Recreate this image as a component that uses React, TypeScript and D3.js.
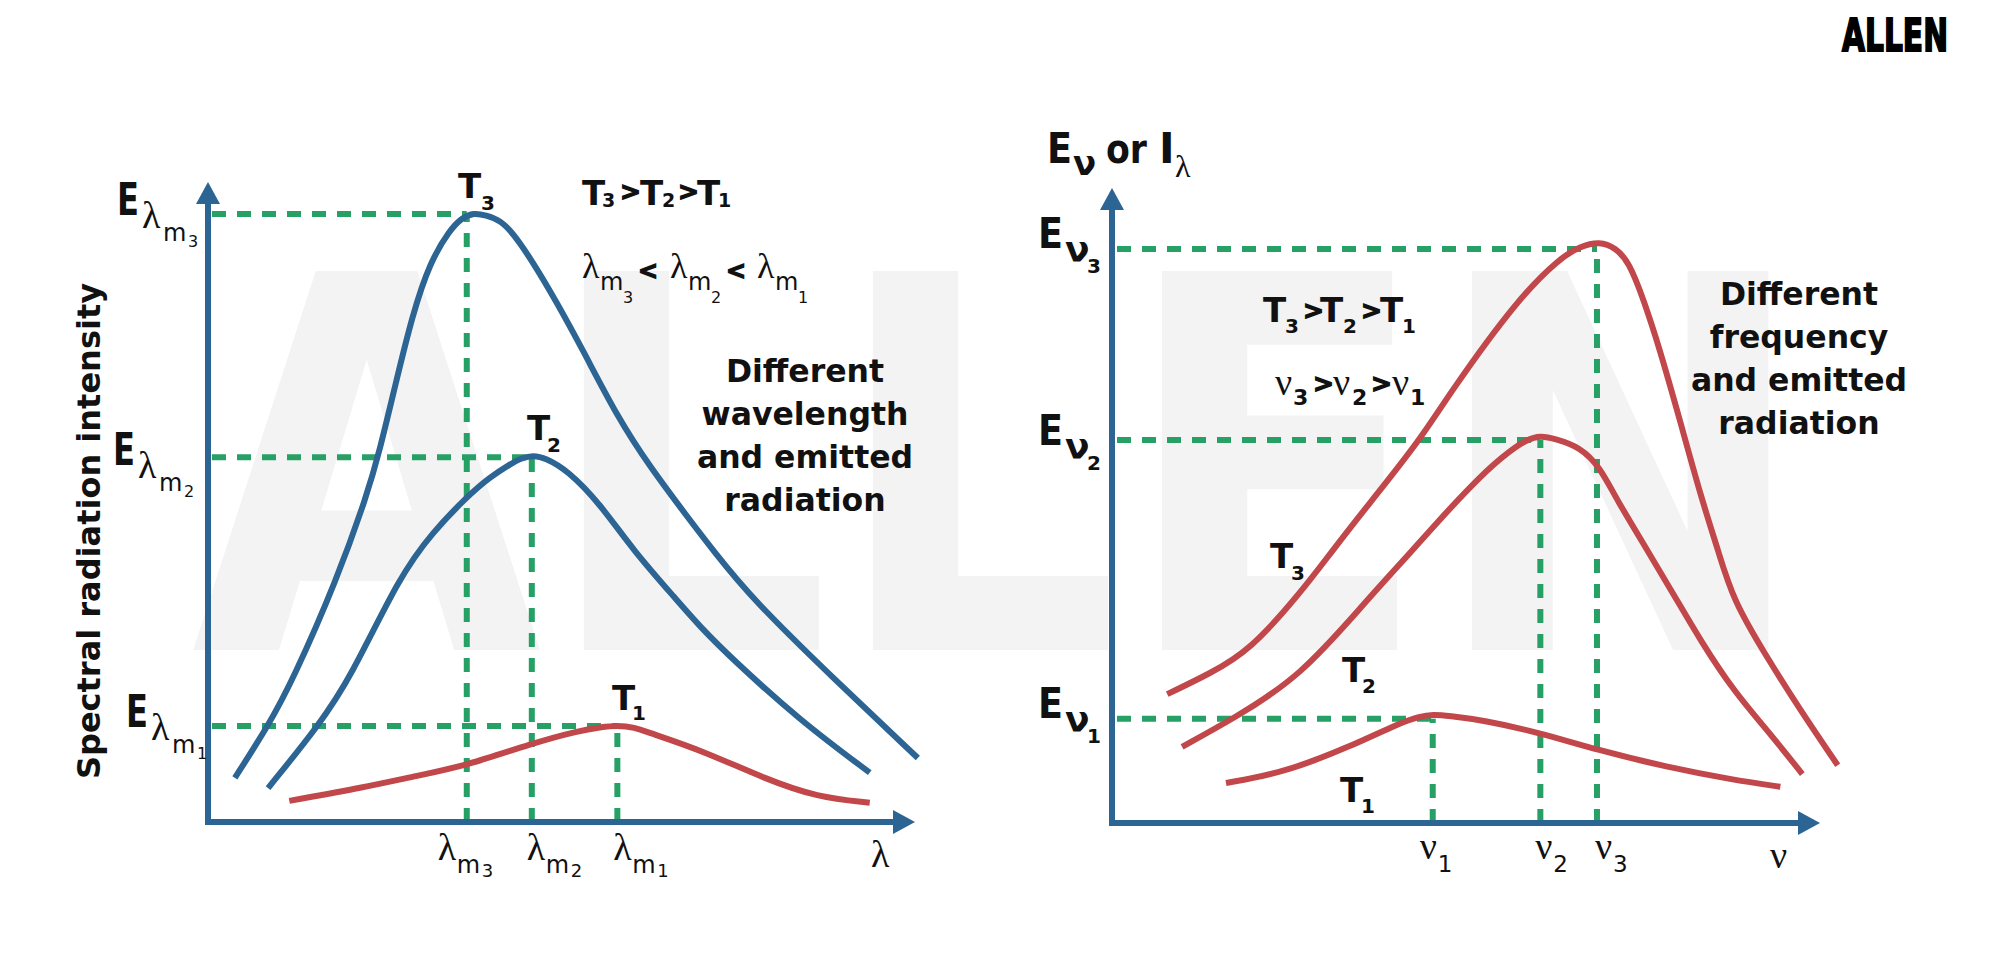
import React from "react";
import * as d3 from "d3";

const W = 1999;
const H = 980;

// ---------- Left chart: intensity vs wavelength (arbitrary units 0..100) ----------
const wlT3: [number, number][] = [[3.8,6.9],[8.5,15.0],[12.0,22.2],[18.2,37.8],[22.5,51.1],[24.3,58.1],[26.5,68.3],[28.9,79.2],[31.4,87.5],[34.2,92.5],[35.9,94.4],[37.6,95.2],[39.3,94.8],[41.3,94.1],[43.7,91.4],[48.4,83.1],[53.0,73.8],[57.9,63.3],[62.5,55.5],[67.8,47.7],[71.4,42.5],[77.1,34.7],[88.7,22.2],[100.4,10.0]];
const wlT2: [number, number][] = [[8.5,5.3],[15.6,15.0],[20.1,22.4],[27.2,38.6],[31.8,45.3],[36.6,50.8],[39.9,53.9],[42.7,55.9],[44.4,56.9],[46.0,57.3],[47.7,56.9],[50.8,55.0],[55.4,49.8],[60.1,42.5],[66.3,34.7],[69.6,30.5],[74.3,25.3],[83.7,15.9],[93.6,7.7]];
const wlT1: [number, number][] = [[11.5,3.3],[22.5,5.5],[28.6,7.0],[36.6,8.8],[45.8,12.3],[52.6,14.3],[55.5,14.8],[57.9,15.1],[60.3,14.8],[62.5,13.9],[69.6,11.3],[79.1,6.6],[86.1,3.9],[93.6,3.0]];
const wlPeakX = [36.6, 45.8, 57.9]; // λm3, λm2, λm1
const wlPeakY = [95.0, 57.0, 15.0]; // Eλm3, Eλm2, Eλm1
const wlPeakSubs = ["3", "2", "1"];
const wlTickOffset = [-29, -5, -4];

// ---------- Right chart: intensity vs frequency ----------
const nuT3: [number, number][] = [[7.8,20.3],[13.8,23.5],[19.5,27.2],[26.6,36.2],[31.2,43.0],[36.4,50.4],[43.5,60.3],[47.7,67.7],[57.2,82.4],[63.3,89.0],[66.1,90.8],[68.9,91.6],[71.1,90.6],[73.0,88.4],[75.1,82.4],[77.4,74.5],[80.1,63.9],[83.3,50.9],[85.6,43.0],[87.7,35.1],[92.5,26.1],[97.2,17.8],[102.5,9.1]];
const nuT2: [number, number][] = [[9.9,12.0],[17.1,16.4],[26.6,23.0],[36.0,35.1],[42.5,43.0],[45.3,46.6],[52.4,55.1],[56.2,58.6],[58.6,60.4],[60.5,61.0],[62.6,60.5],[66.1,59.2],[68.9,56.1],[71.3,50.9],[75.6,43.0],[79.8,35.1],[83.1,28.8],[87.7,20.9],[93.4,13.5],[97.5,7.7]];
const nuT1: [number, number][] = [[16.1,6.3],[24.2,7.9],[33.6,12.0],[40.7,15.8],[43.5,16.8],[45.3,17.1],[47.5,16.9],[52.4,16.2],[60.5,14.2],[68.5,11.5],[78.4,8.8],[87.7,6.8],[94.4,5.7]];
const nuPeakX = [45.3, 60.5, 68.5]; // ν1, ν2, ν3
const nuPeakY = [16.4, 60.3, 90.4]; // Eν1, Eν2, Eν3
const nuPeakSubs = ["1", "2", "3"];
const nuTickOffset = [-13, -5, -2];

const BLUE = "#2c6494";
const RED = "#c1474a";
const GREEN = "#26a065";
const INK = "#111111";
const SANS = "'DejaVu Sans', sans-serif";
const SERIF = "'Liberation Serif', 'DejaVu Serif', serif";

const xL = d3.scaleLinear().domain([0, 100]).range([208, 915]);
const yL = d3.scaleLinear().domain([0, 100]).range([822, 182]);
const xR = d3.scaleLinear().domain([0, 100]).range([1112, 1820]);
const yR = d3.scaleLinear().domain([0, 100]).range([823, 188]);

type Part = { t: string; dx: number; dy: number; size: number; serif?: boolean; bold?: boolean; tl?: number; heavy?: boolean };

function Rich({ x, y, parts }: { x: number; y: number; parts: Part[] }) {
  return (
    <g transform={`translate(${x},${y})`} fill={INK}>
      {parts.map((p, i) => (
        <text
          key={i}
          x={p.dx}
          y={p.dy}
          fontSize={p.size}
          fontFamily={p.serif ? SERIF : SANS}
          fontWeight={p.bold ? 700 : 400}
          textLength={p.tl}
          lengthAdjust={p.tl ? "spacingAndGlyphs" : undefined}
          stroke={p.heavy ? INK : undefined}
          strokeWidth={p.heavy ? 1.4 : undefined}
        >
          {p.t}
        </text>
      ))}
    </g>
  );
}

const tLabel = (sub: string, sdx: number, sdy: number): Part[] => [
  { t: "T", dx: 0, dy: 0, size: 34, bold: true },
  { t: sub, dx: sdx, dy: sdy, size: 20, bold: true },
];

const eLambda = (sub: string): Part[] => [
  { t: "E", dx: 0, dy: 0, size: 44, bold: true, tl: 22 },
  { t: "λ", dx: 25, dy: 13, size: 38, serif: true },
  { t: "m", dx: 46, dy: 26, size: 24 },
  { t: sub, dx: 71, dy: 32, size: 16 },
];

const eNu = (sub: string): Part[] => [
  { t: "E", dx: 0, dy: 0, size: 43, bold: true, tl: 25 },
  { t: "ν", dx: 27, dy: 14, size: 36, bold: true },
  { t: sub, dx: 49, dy: 25, size: 20, bold: true },
];

const chev = (dx: number, dy: number): Part => ({ t: ">", dx, dy, size: 25, bold: true, heavy: true });

function Arrow({ tip, dir }: { tip: [number, number]; dir: "up" | "right" }) {
  const L = 22, hw = 12;
  const [x, y] = tip;
  const pts = dir === "up"
    ? [[x, y], [x - hw, y + L], [x + hw, y + L]]
    : [[x, y], [x - L, y - hw], [x - L, y + hw]];
  return <polygon points={pts.map((p) => p.join(",")).join(" ")} fill={BLUE} />;
}

function Paragraph({ cx, y0, lines }: { cx: number; y0: number; lines: string[] }) {
  return (
    <text fontFamily={SANS} fontWeight={700} fontSize={31.5} fill={INK} textAnchor="middle">
      {lines.map((l, i) => (
        <tspan key={i} x={cx} y={y0 + i * 43}>{l}</tspan>
      ))}
    </text>
  );
}

export default function App() {
  const lineL = d3.line<[number, number]>().x((d) => xL(d[0])).y((d) => yL(d[1])).curve(d3.curveBasis);
  const lineR = d3.line<[number, number]>().x((d) => xR(d[0])).y((d) => yR(d[1])).curve(d3.curveBasis);
  const dash = { stroke: GREEN, strokeWidth: 6, strokeDasharray: "14 11", fill: "none" } as const;
  const curve = { fill: "none", strokeWidth: 6, strokeLinecap: "butt" as const };

  return (
    <svg width={W} height={H} style={{ position: "absolute", left: 0, top: 0, background: "#fff" }}>
      <rect width={W} height={H} fill="#fff" />
      {/* watermark */}
      <text x={191} y={650} fontSize={520} fontFamily={SANS} fontWeight={700} fill="#f3f3f3" textLength={1619} lengthAdjust="spacingAndGlyphs">ALLEN</text>
      {/* logo */}
      <text x={1842} y={51} fontSize={44} fontFamily={SANS} fontWeight={900} fill="#000" stroke="#000" strokeWidth={2} textLength={106} lengthAdjust="spacingAndGlyphs">ALLEN</text>

      {/* ---------- LEFT CHART ---------- */}
      {wlPeakX.map((px, i) => (
        <g key={"ld" + i}>
          <line x1={xL(0) + 4} x2={xL(px)} y1={yL(wlPeakY[i])} y2={yL(wlPeakY[i])} {...dash} />
          <line x1={xL(px)} x2={xL(px)} y1={yL(0)} y2={yL(wlPeakY[i])} {...dash} />
        </g>
      ))}
      <path d={lineL(wlT3) || ""} stroke={BLUE} {...curve} />
      <path d={lineL(wlT2) || ""} stroke={BLUE} {...curve} />
      <path d={lineL(wlT1) || ""} stroke={RED} {...curve} />
      <line x1={xL(0)} x2={xL(0)} y1={yL(0) + 3} y2={yL(100) + 20} stroke={BLUE} strokeWidth={6} />
      <line x1={xL(0) - 3} x2={xL(100) - 20} y1={yL(0)} y2={yL(0)} stroke={BLUE} strokeWidth={6} />
      <Arrow tip={[xL(0), yL(100)]} dir="up" />
      <Arrow tip={[xL(100), yL(0)]} dir="right" />

      {wlPeakY.map((v, i) => (
        <Rich key={"le" + i} x={[117, 113, 126][i]} y={yL(v) + [1, 8, 1][i]} parts={eLambda(wlPeakSubs[i])} />
      ))}
      {wlPeakX.map((px, i) => (
        <Rich key={"lt" + i} x={xL(px) + wlTickOffset[i]} y={860} parts={[
          { t: "λ", dx: 0, dy: 0, size: 38, serif: true },
          { t: "m", dx: 19, dy: 13, size: 24 },
          { t: wlPeakSubs[i], dx: 44, dy: 17, size: 18 },
        ]} />
      ))}
      <text x={871} y={867} fontSize={38} fontFamily={SERIF} fill={INK}>λ</text>

      <Rich x={458} y={198} parts={tLabel("3", 23, 12)} />
      <Rich x={527} y={440} parts={tLabel("2", 20, 12)} />
      <Rich x={612} y={710} parts={tLabel("1", 20, 10)} />

      <Rich x={582} y={205} parts={[
        { t: "T", dx: 0, dy: 0, size: 34, bold: true },
        { t: "3", dx: 20, dy: 2, size: 19, bold: true },
        chev(38, -5),
        { t: "T", dx: 58, dy: 0, size: 34, bold: true },
        { t: "2", dx: 80, dy: 2, size: 19, bold: true },
        chev(96, -5),
        { t: "T", dx: 115, dy: 0, size: 34, bold: true },
        { t: "1", dx: 136, dy: 2, size: 19, bold: true },
      ]} />
      <Rich x={582} y={278} parts={[
        { t: "λ", dx: 0, dy: 0, size: 36, serif: true },
        { t: "m", dx: 18, dy: 12, size: 24 },
        { t: "3", dx: 41, dy: 25, size: 16 },
        { t: "<", dx: 56, dy: 1, size: 24, bold: true, heavy: true },
        { t: "λ", dx: 88, dy: 0, size: 36, serif: true },
        { t: "m", dx: 106, dy: 12, size: 24 },
        { t: "2", dx: 129, dy: 25, size: 16 },
        { t: "<", dx: 144, dy: 1, size: 24, bold: true, heavy: true },
        { t: "λ", dx: 175, dy: 0, size: 36, serif: true },
        { t: "m", dx: 193, dy: 12, size: 24 },
        { t: "1", dx: 216, dy: 25, size: 16 },
      ]} />
      <Paragraph cx={805} y0={382} lines={["Different", "wavelength", "and emitted", "radiation"]} />
      <text transform="translate(100,531) rotate(-90)" textAnchor="middle" fontSize={32} fontFamily={SANS} fontWeight={700} fill={INK}>Spectral radiation intensity</text>

      {/* ---------- RIGHT CHART ---------- */}
      {nuPeakX.map((px, i) => (
        <g key={"rd" + i}>
          <line x1={xR(0) + 5} x2={xR(px)} y1={yR(nuPeakY[i])} y2={yR(nuPeakY[i])} {...dash} />
          <line x1={xR(px)} x2={xR(px)} y1={yR(0)} y2={yR(nuPeakY[i])} {...dash} />
        </g>
      ))}
      <path d={lineR(nuT3) || ""} stroke={RED} {...curve} />
      <path d={lineR(nuT2) || ""} stroke={RED} {...curve} />
      <path d={lineR(nuT1) || ""} stroke={RED} {...curve} />
      <line x1={xR(0)} x2={xR(0)} y1={yR(0) + 3} y2={yR(100) + 20} stroke={BLUE} strokeWidth={6} />
      <line x1={xR(0) - 3} x2={xR(100) - 20} y1={yR(0)} y2={yR(0)} stroke={BLUE} strokeWidth={6} />
      <Arrow tip={[xR(0), yR(100)]} dir="up" />
      <Arrow tip={[xR(100), yR(0)]} dir="right" />

      {nuPeakY.map((v, i) => (
        <Rich key={"re" + i} x={1038} y={yR(v) + [-1, 5, -1][i]} parts={eNu(nuPeakSubs[i])} />
      ))}
      {nuPeakX.map((px, i) => (
        <Rich key={"rt" + i} x={xR(px) + nuTickOffset[i]} y={859} parts={[
          { t: "ν", dx: 0, dy: 0, size: 38, serif: true },
          { t: nuPeakSubs[i], dx: 18, dy: 13, size: 23 },
        ]} />
      ))}
      <text x={1770} y={868} fontSize={38} fontFamily={SERIF} fill={INK}>ν</text>

      <Rich x={1047} y={163} parts={[
        { t: "E", dx: 0, dy: 0, size: 42, bold: true, tl: 25 },
        { t: "ν", dx: 26, dy: 12, size: 34, bold: true },
        { t: "or", dx: 59, dy: 0, size: 40, bold: true, tl: 41 },
        { t: "I", dx: 112, dy: 0, size: 42, bold: true },
        { t: "λ", dx: 128, dy: 14, size: 32, serif: true },
      ]} />

      <Rich x={1270} y={568} parts={tLabel("3", 21, 12)} />
      <Rich x={1342} y={682} parts={tLabel("2", 20, 11)} />
      <Rich x={1340} y={802} parts={tLabel("1", 21, 11)} />

      <Rich x={1263} y={322} parts={[
        { t: "T", dx: 0, dy: 0, size: 34, bold: true },
        { t: "3", dx: 22, dy: 11, size: 20, bold: true },
        chev(40, -3),
        { t: "T", dx: 57, dy: 0, size: 34, bold: true },
        { t: "2", dx: 80, dy: 11, size: 20, bold: true },
        chev(98, -3),
        { t: "T", dx: 117, dy: 0, size: 34, bold: true },
        { t: "1", dx: 139, dy: 11, size: 20, bold: true },
      ]} />
      <Rich x={1275} y={395} parts={[
        { t: "ν", dx: 0, dy: 0, size: 38, serif: true },
        { t: "3", dx: 18, dy: 10, size: 22, bold: true },
        chev(38, -3),
        { t: "ν", dx: 58, dy: 0, size: 38, serif: true },
        { t: "2", dx: 77, dy: 10, size: 22, bold: true },
        chev(96, -3),
        { t: "ν", dx: 117, dy: 0, size: 38, serif: true },
        { t: "1", dx: 135, dy: 10, size: 22, bold: true },
      ]} />
      <Paragraph cx={1799} y0={305} lines={["Different", "frequency", "and emitted", "radiation"]} />
    </svg>
  );
}
